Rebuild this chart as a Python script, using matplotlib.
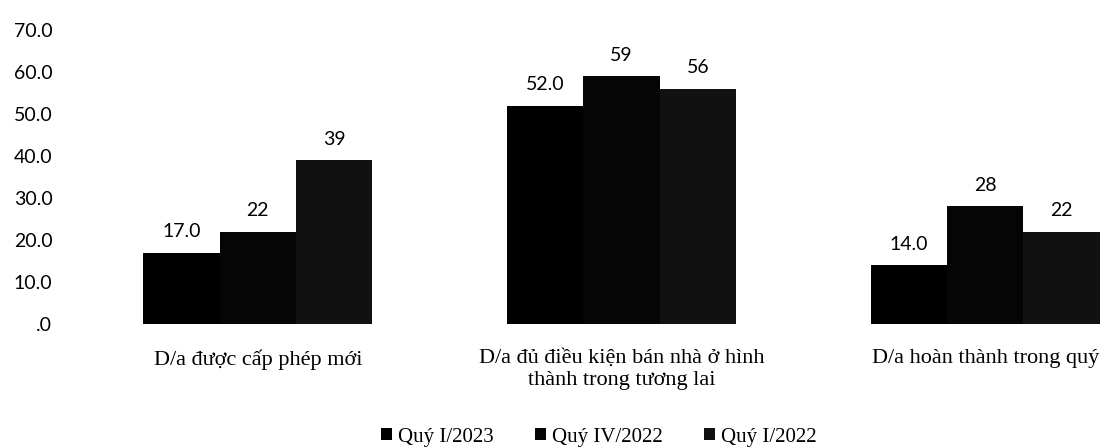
import matplotlib
matplotlib.use("Agg")
import matplotlib.pyplot as plt
import numpy as np

categories = ["D/a được cấp phép mới",
              "D/a đủ điều kiện bán nhà ở hình\nthành trong tương lai",
              "D/a hoàn thành trong quý"]
series_names = ["Quý I/2023", "Quý IV/2022", "Quý I/2022"]
q1_2023 = [17.0, 52.0, 14.0]
q4_2022 = [22, 59, 28]
q1_2022 = [39, 56, 22]
label_fmts = ["{:.1f}", "{:.0f}", "{:.0f}"]
yticks = [0, 10, 20, 30, 40, 50, 60, 70]
ytick_labels = [".0", "10.0", "20.0", "30.0", "40.0", "50.0", "60.0", "70.0"]

colors = ["#000000", "#050505", "#111111"]

fig = plt.figure(figsize=(11.03, 4.48), dpi=100)
ax = fig.add_axes([76/1103, 1-324/448, 1091/1103, (324-30)/448])

x = np.arange(len(categories))
width = 0.21
series = [q1_2023, q4_2022, q1_2022]
for i, (vals, name, fmt) in enumerate(zip(series, series_names, label_fmts)):
    xs = x + (i - 1) * width
    bars = ax.bar(xs, vals, width=width, color=colors[i], label=name, linewidth=0)
    for b, v in zip(bars, vals):
        ax.annotate(fmt.format(v), (b.get_x() + b.get_width()/2, v),
                    xytext=(0, 9), textcoords="offset points",
                    ha="center", va="bottom", fontsize=14, family="Lato",
                    color="black")

ax.set_xlim(-0.5, 2.5)
ax.set_ylim(0, 70)
ax.set_yticks(yticks)
ax.set_yticklabels(ytick_labels, family="Lato", fontsize=14)
ax.set_xticks(x)
ax.set_xticklabels(categories, family="Liberation Serif", fontsize=16, va="top",
                   linespacing=1.2)
ax.tick_params(axis="both", length=0)
ax.tick_params(axis="x", pad=18)
ax.tick_params(axis="y", pad=17)
for s in ax.spines.values():
    s.set_visible(False)

leg = fig.legend(loc="center", bbox_to_anchor=(599/1103, 1-437/448), ncol=3,
                 frameon=False, prop={"family": "Liberation Serif", "size": 15},
                 handlelength=0.5, handleheight=0.5, handletextpad=0.3,
                 columnspacing=2.0)

fig.savefig("out.png", dpi=100)
